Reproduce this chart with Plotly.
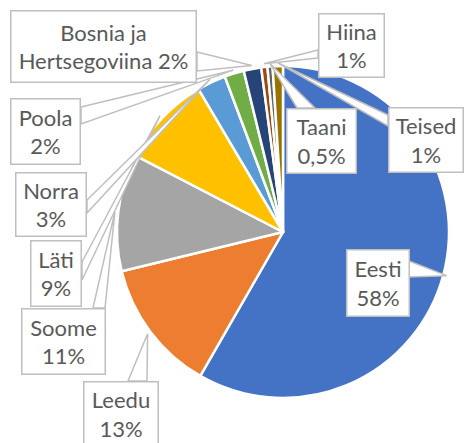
import math
import plotly.graph_objects as go

# ---- data ----
countries = ["Eesti", "Leedu", "Soome", "Läti", "Norra", "Poola",
             "Bosnia ja Hertsegoviina", "Hiina", "Taani", "Teised"]
shares = [58.3, 12.9, 11.4, 8.9, 2.8, 1.9, 1.7, 0.6, 0.5, 1.0]
share_labels = ["58%", "13%", "11%", "9%", "3%", "2%", "2%", "1%", "0,5%", "1%"]
label_names = ["Eesti", "Leedu", "Soome", "Läti", "Norra", "Poola",
               "Bosnia ja<br>Hertsegoviina", "Hiina", "Taani", "Teised"]
colors = ["#4472C4", "#ED7D31", "#A5A5A5", "#FFC000", "#5B9BD5", "#70AD47",
          "#264478", "#9E480E", "#636363", "#997300"]

# ---- layout (pixels) ----
W, H = 465, 443
CX, CY, R = 283, 232, 166
boxes = [  # x0, y0, x1, y1
    (346, 249, 410, 317),
    (83, 381, 159, 447),
    (21, 308, 106, 375),
    (30, 240, 82, 307),
    (15, 172, 87, 237),
    (10, 98, 81, 165),
    (10, 10, 197, 83),
    (318, 13, 385, 78),
    (286, 108, 357, 174),
    (388, 107, 464, 173),
]
bases = [  # two points of the callout pointer base on the box
    ((409, 261), (409, 277)),
    ((128, 381), (147, 381)),
    ((93, 308), (105, 308)),
    ((82, 262), (82, 280)),
    ((87, 200), (87, 213)),
    ((81, 107), (81, 124)),
    ((197, 52), (197, 71)),
    ((318, 50), (318, 58)),
    ((297, 108), (315, 108)),
    ((388, 115), (388, 126)),
]

def px(x):
    return x / W

def py(y):
    return 1 - y / H

fig = go.Figure(go.Pie(
    labels=countries,
    values=shares,
    sort=False,
    direction="clockwise",
    rotation=0,
    marker=dict(colors=colors, line=dict(color="white", width=2.5)),
    textinfo="none",
    hoverinfo="label+percent",
    domain=dict(x=[px(CX - R), px(CX + R)], y=[py(CY + R), py(CY - R)]),
))

total = sum(shares)
cum = 0.0
shapes = []
annotations = []
BW = 1.5
for i, v in enumerate(shares):
    theta = math.radians(360.0 * (cum + v / 2.0) / total)
    cum += v
    ax = CX + R * 1.02 * math.sin(theta)
    ay = CY - R * 1.02 * math.cos(theta)
    (b1x, b1y), (b2x, b2y) = bases[i]
    shapes.append(dict(
        type="path", xref="paper", yref="paper", layer="above",
        path=f"M {px(b1x)},{py(b1y)} L {px(ax)},{py(ay)} L {px(b2x)},{py(b2y)} Z",
        fillcolor="white", line=dict(color="#BFBFBF", width=1.5),
    ))
    x0, y0, x1, y1 = boxes[i]
    annotations.append(dict(
        xref="paper", yref="paper",
        x=px((x0 + x1) / 2), y=py((y0 + y1) / 2),
        xanchor="center", yanchor="middle",
        text=f"{label_names[i]} {share_labels[i]}" if i == 6 else f"{label_names[i]}<br>{share_labels[i]}",
        showarrow=False,
        width=(x1 - x0) - 2 * BW, height=(y1 - y0) - 2 * BW,
        bgcolor="white", bordercolor="#BFBFBF", borderwidth=BW, borderpad=0,
        align="center", valign="middle",
        font=dict(family="Lato", size=22, color="#595959"),
    ))

fig.update_layout(
    width=W, height=H,
    margin=dict(l=0, r=0, t=0, b=0),
    paper_bgcolor="white",
    showlegend=False,
    shapes=shapes,
    annotations=annotations,
)

fig.write_html("out.html", config={"displayModeBar": False},
               post_script="document.body.style.margin='0';")
